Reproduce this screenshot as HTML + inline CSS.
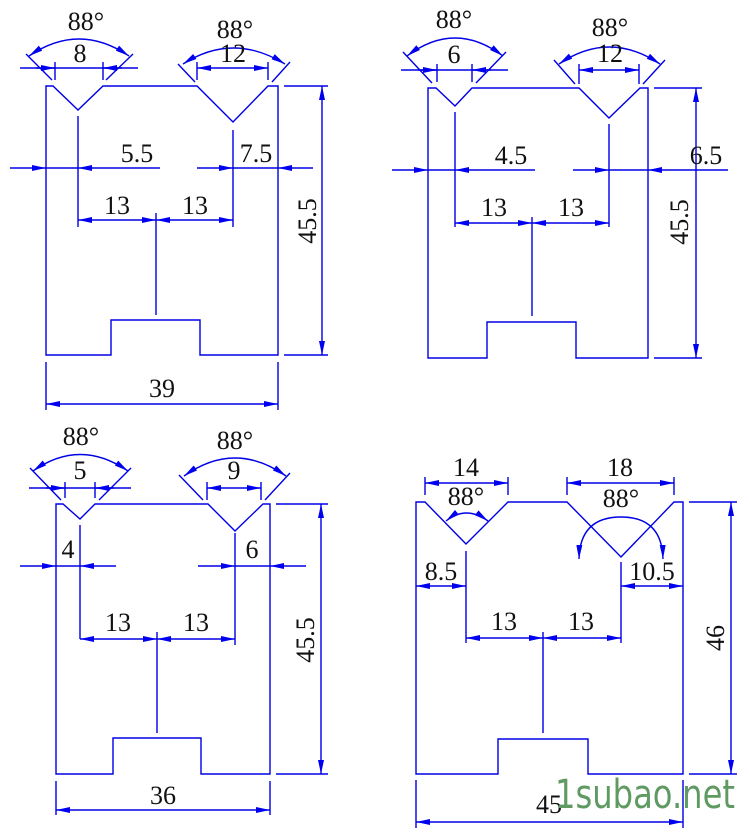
<!DOCTYPE html>
<html><head><meta charset="utf-8"><style>
html,body{margin:0;padding:0;background:#fff;}
svg{display:block}
text{font-family:"Liberation Serif",serif;font-size:26px;fill:#111;text-anchor:middle}
</style></head><body>
<svg width="750" height="835" viewBox="0 0 750 835" xmlns="http://www.w3.org/2000/svg">
<defs>
<marker id="a" viewBox="0 0 14 6" refX="14" refY="3" markerWidth="14" markerHeight="6" markerUnits="userSpaceOnUse" orient="auto-start-reverse"><path d="M0,0 L14,3 L0,6z" fill="#0000f0"/></marker>
</defs>
<g stroke="#0000e6" stroke-width="1.4" fill="none">
<path d="M46,355 V86 H53 L78,110 L103,86 H197 L233,122 L268,86 H278 V355 H200 V320 H111 V355 Z"/>
<path d="M78,116 V227 M233,130 V227 M156,213 V315"/>
<path d="M10,168 H46" marker-end="url(#a)"/><path d="M160,168 H78" marker-end="url(#a)"/><path d="M46,168 H78"/>
<path d="M197,168 H233" marker-end="url(#a)"/><path d="M313,168 H278" marker-end="url(#a)"/><path d="M233,168 H278"/>
<path d="M78,220 H156" marker-start="url(#a)" marker-end="url(#a)"/><path d="M156,220 H233" marker-start="url(#a)" marker-end="url(#a)"/>
<path d="M284,86 H328 M284,355 H328"/><path d="M322,86 V355" marker-start="url(#a)" marker-end="url(#a)"/>
<path d="M46,362 V410 M278,362 V410"/><path d="M46,404 H278" marker-start="url(#a)" marker-end="url(#a)"/>
<path d="M20,68 H138 M55,62 V80 M103,62 V80"/>
<path d="M26,54 L52,80 M133,54 L106,80"/>
<path d="M29,56 Q79,22 129,56" marker-start="url(#a)" marker-end="url(#a)"/>
<path d="M36,68 H55" marker-end="url(#a)"/><path d="M122,68 H103" marker-end="url(#a)"/>
<path d="M197,62 V80 M268,62 V80"/><path d="M197,68 H268" marker-start="url(#a)" marker-end="url(#a)"/>
<path d="M178,64 L195,82 M290,62 L272,82"/>
<path d="M183,64 Q233,32 285,64" marker-start="url(#a)" marker-end="url(#a)"/>
<path d="M428,358 V88 H436 L455,106 L472,88 H579 L609,118 L640,88 H648 V358 H576 V322 H487 V358 Z"/>
<path d="M455,112 V227 M609,124 V227 M532,217 V316"/>
<path d="M392,170 H428" marker-end="url(#a)"/><path d="M535,170 H455" marker-end="url(#a)"/><path d="M428,170 H455"/>
<path d="M573,170 H609" marker-end="url(#a)"/><path d="M728,170 H648" marker-end="url(#a)"/><path d="M609,170 H648"/>
<path d="M455,223 H532" marker-start="url(#a)" marker-end="url(#a)"/><path d="M532,223 H609" marker-start="url(#a)" marker-end="url(#a)"/>
<path d="M654,88 H702 M654,358 H702"/><path d="M696,88 V358" marker-start="url(#a)" marker-end="url(#a)"/>
<path d="M401,70 H508 M437,64 V82 M472,64 V82"/>
<path d="M403,52 L432,83 M506,52 L476,83"/>
<path d="M407,56 Q455,20 503,56" marker-start="url(#a)" marker-end="url(#a)"/>
<path d="M418,70 H437" marker-end="url(#a)"/><path d="M491,70 H472" marker-end="url(#a)"/>
<path d="M579,64 V84 M639,64 V84"/><path d="M579,70 H639" marker-start="url(#a)" marker-end="url(#a)"/>
<path d="M554,60 L575,84 M665,60 L643,84"/>
<path d="M559,64 Q609,30 660,64" marker-start="url(#a)" marker-end="url(#a)"/>
<path d="M56,774 V504 H63 L80,519 L95,504 H208 L235,531 L263,504 H270 V774 H201 V738 H113 V774 Z"/>
<path d="M80,525 V639 M235,533 V645 M157,632 V733"/>
<path d="M20,566 H56" marker-end="url(#a)"/><path d="M116,566 H80" marker-end="url(#a)"/><path d="M56,566 H80"/>
<path d="M198,566 H235" marker-end="url(#a)"/><path d="M306,566 H270" marker-end="url(#a)"/><path d="M235,566 H270"/>
<path d="M80,639 H157" marker-start="url(#a)" marker-end="url(#a)"/><path d="M157,639 H235" marker-start="url(#a)" marker-end="url(#a)"/>
<path d="M276,504 H328 M276,774 H328"/><path d="M321,504 V774" marker-start="url(#a)" marker-end="url(#a)"/>
<path d="M56,781 V815 M270,781 V815"/><path d="M56,810 H270" marker-start="url(#a)" marker-end="url(#a)"/>
<path d="M29,488 H131 M65,482 V498 M95,482 V498"/>
<path d="M30,468 L61,500 M131,468 L99,500"/>
<path d="M33,471 Q80,438 128,471" marker-start="url(#a)" marker-end="url(#a)"/>
<path d="M46,488 H65" marker-end="url(#a)"/><path d="M114,488 H95" marker-end="url(#a)"/>
<path d="M207,482 V500 M261,482 V500"/><path d="M207,488 H261" marker-start="url(#a)" marker-end="url(#a)"/>
<path d="M179,475 L203,500 M290,473 L265,500"/>
<path d="M184,476 Q235,440 286,476" marker-start="url(#a)" marker-end="url(#a)"/>
<path d="M416,774 V502 H425 L466,544 L508,502 H567 L621,557 L674,502 H683 V774 H588 V739 H498 V774 Z"/>
<path d="M466,551 V643 M621,562 V643 M543,632 V733"/>
<path d="M416,586 H466" marker-start="url(#a)" marker-end="url(#a)"/>
<path d="M621,586 H683" marker-start="url(#a)" marker-end="url(#a)"/>
<path d="M466,638 H543" marker-start="url(#a)" marker-end="url(#a)"/><path d="M543,638 H621" marker-start="url(#a)" marker-end="url(#a)"/>
<path d="M689,502 H737 M689,774 H737"/><path d="M731,502 V774" marker-start="url(#a)" marker-end="url(#a)"/>
<path d="M416,780 V828 M683,780 V828"/><path d="M416,822 H683" marker-start="url(#a)" marker-end="url(#a)"/>
<path d="M425,477 V495 M508,477 V495"/><path d="M425,483 H508" marker-start="url(#a)" marker-end="url(#a)"/>
<path d="M567,477 V495 M674,477 V495"/><path d="M567,483 H674" marker-start="url(#a)" marker-end="url(#a)"/>
<path d="M446,521 Q466,505 488,521" marker-start="url(#a)" marker-end="url(#a)"/>
<path d="M579,559 Q580,517 621,517 Q662,517 663,559" marker-start="url(#a)" marker-end="url(#a)"/>
</g>
<text x="86" y="30">88°</text><text x="80" y="62">8</text>
<text x="235" y="38">88°</text><text x="233" y="62">12</text>
<text x="137" y="162">5.5</text><text x="256" y="162">7.5</text>
<text x="117" y="214">13</text><text x="195" y="214">13</text>
<text x="162" y="397">39</text>
<text transform="translate(316,221) rotate(-90)">45.5</text>
<text x="454" y="28">88°</text><text x="454" y="63">6</text>
<text x="610" y="36">88°</text><text x="610" y="62">12</text>
<text x="511" y="164">4.5</text><text x="706" y="164">6.5</text>
<text x="494" y="216">13</text><text x="571" y="216">13</text>
<text transform="translate(688,222) rotate(-90)">45.5</text>
<text x="81" y="445">88°</text><text x="80" y="479">5</text>
<text x="235" y="449">88°</text><text x="234" y="479">9</text>
<text x="68" y="558">4</text><text x="252" y="558">6</text>
<text x="118" y="631">13</text><text x="196" y="631">13</text>
<text x="163" y="804">36</text>
<text transform="translate(314,640) rotate(-90)">45.5</text>
<text x="466" y="476">14</text><text x="466" y="505">88°</text>
<text x="620" y="476">18</text><text x="621" y="507">88°</text>
<text x="441" y="580">8.5</text><text x="652" y="580">10.5</text>
<text x="504" y="630">13</text><text x="581" y="630">13</text>
<text transform="translate(724,638) rotate(-90)">46</text>
<text x="549" y="813">45</text>
<text x="555" y="808" textLength="180" lengthAdjust="spacingAndGlyphs" style="text-anchor:start;font-family:'DejaVu Sans','Liberation Sans',sans-serif;font-size:40px;fill:#5f9a62">1subao.net</text>
</svg>
</body></html>
